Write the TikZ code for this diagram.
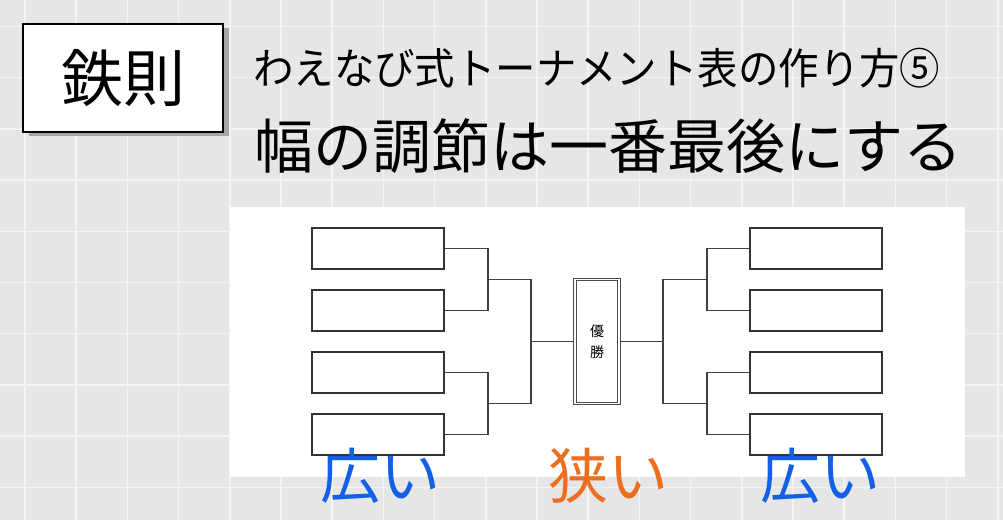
\documentclass[tikz,border=0pt]{standalone}
\usepackage{fontspec}
\newfontfamily\jpfont{Noto Sans CJK JP}
\newfontfamily\jpnarrow[FakeStretch=0.94]{Noto Sans CJK JP}
\usetikzlibrary{calc}

\begin{document}
\begin{tikzpicture}[x=1pt, y=-1pt,
    waku/.style={draw=black!80, line width=1.3pt, fill=white, minimum width=132pt, minimum height=41pt, inner sep=0pt},
    sen/.style={draw=black!75, line width=1.1pt}]

                    % 色の設定
                    \definecolor{haikei}{RGB}{230,230,230}
                    \definecolor{koshi}{RGB}{244,244,244}
                    \definecolor{ao}{RGB}{18,96,232}
                    \definecolor{daidai}{RGB}{236,110,30}
                    \useasboundingbox (0,0) rectangle (1003,520);
                    \fill[haikei] (0,0) rectangle (1003,520);

                    % 背景の格子
                    \foreach \i in {0,...,19}
                        \draw[koshi, line width=1.5pt] (25+51.2*\i,0) -- ++(0,520);
                    \foreach \i in {0,...,9}
                        \draw[koshi, line width=1.5pt] (0,26.5+51.2*\i) -- ++(1003,0);

                    % 鉄則の箱 (影つき)
                    \fill[black!35] (29,28) rectangle (229,136);
                    \node[draw=black, line width=1.3pt, fill=white, minimum width=200pt, minimum height=108pt, inner sep=0pt] (tessoku) at (123,78) {\jpfont\fontsize{62}{62}\selectfont 鉄則};

                    % 見出し
                    \node[anchor=west, inner sep=0pt] (midashi) at (253,68) {\jpnarrow\fontsize{43}{43}\selectfont わえなび式トーナメント表の作り方⑤};
                    \node[anchor=west, inner sep=0pt] (honbun) at (254,146) {\jpfont\fontsize{59}{59}\selectfont 幅の調節は一番最後にする};

                    % 白い台紙
                    \fill[white] (230,207) rectangle (965,477);

                    % 左右の枠
                    \foreach \n/\y in {1/248.5,2/310.5,3/372.5,4/434.5} {
                        \node[waku] (L\n) at (378,\y) {};
                        \node[waku] (R\n) at (816,\y) {};
                    }

                    % 優勝の枠 (二重線)
                    \node[draw=black!70, double=white, double distance=1.5pt, line width=1.1pt, fill=white, minimum width=44pt, minimum height=124pt, inner sep=0pt, align=center, font={\jpfont\fontsize{14}{21}\selectfont}] (yusho) at (597,341.5) {優\\勝};

                    % 左の線
                    \coordinate (lk1) at (488,279.5);
                    \coordinate (lk2) at (488,403.5);
                    \coordinate (lm) at (531,341.5);
                    \draw[sen] (L1.east) -| (lk1) |- (L2.east);
                    \draw[sen] (L3.east) -| (lk2) |- (L4.east);
                    \draw[sen] (lk1) -| (lm) |- (lk2);
                    \draw[sen] (lm) -- (yusho.west);

                    % 右の線
                    \coordinate (rk1) at (707,279.5);
                    \coordinate (rk2) at (707,403.5);
                    \coordinate (rm) at (663,341.5);
                    \draw[sen] (R1.west) -| (rk1) |- (R2.west);
                    \draw[sen] (R3.west) -| (rk2) |- (R4.west);
                    \draw[sen] (rk1) -| (rm) |- (rk2);
                    \draw[sen] (rm) -- (yusho.east);

                    % 下の文字
                    \node[text=ao] (hiroiL) at (380,476) {\jpfont\fontsize{60}{60}\selectfont 広い};
                    \node[text=daidai] (semai) at (608,476) {\jpfont\fontsize{60}{60}\selectfont 狭い};
                    \node[text=ao] (hiroiR) at (820,476) {\jpfont\fontsize{60}{60}\selectfont 広い};

\end{tikzpicture}
\end{document}
